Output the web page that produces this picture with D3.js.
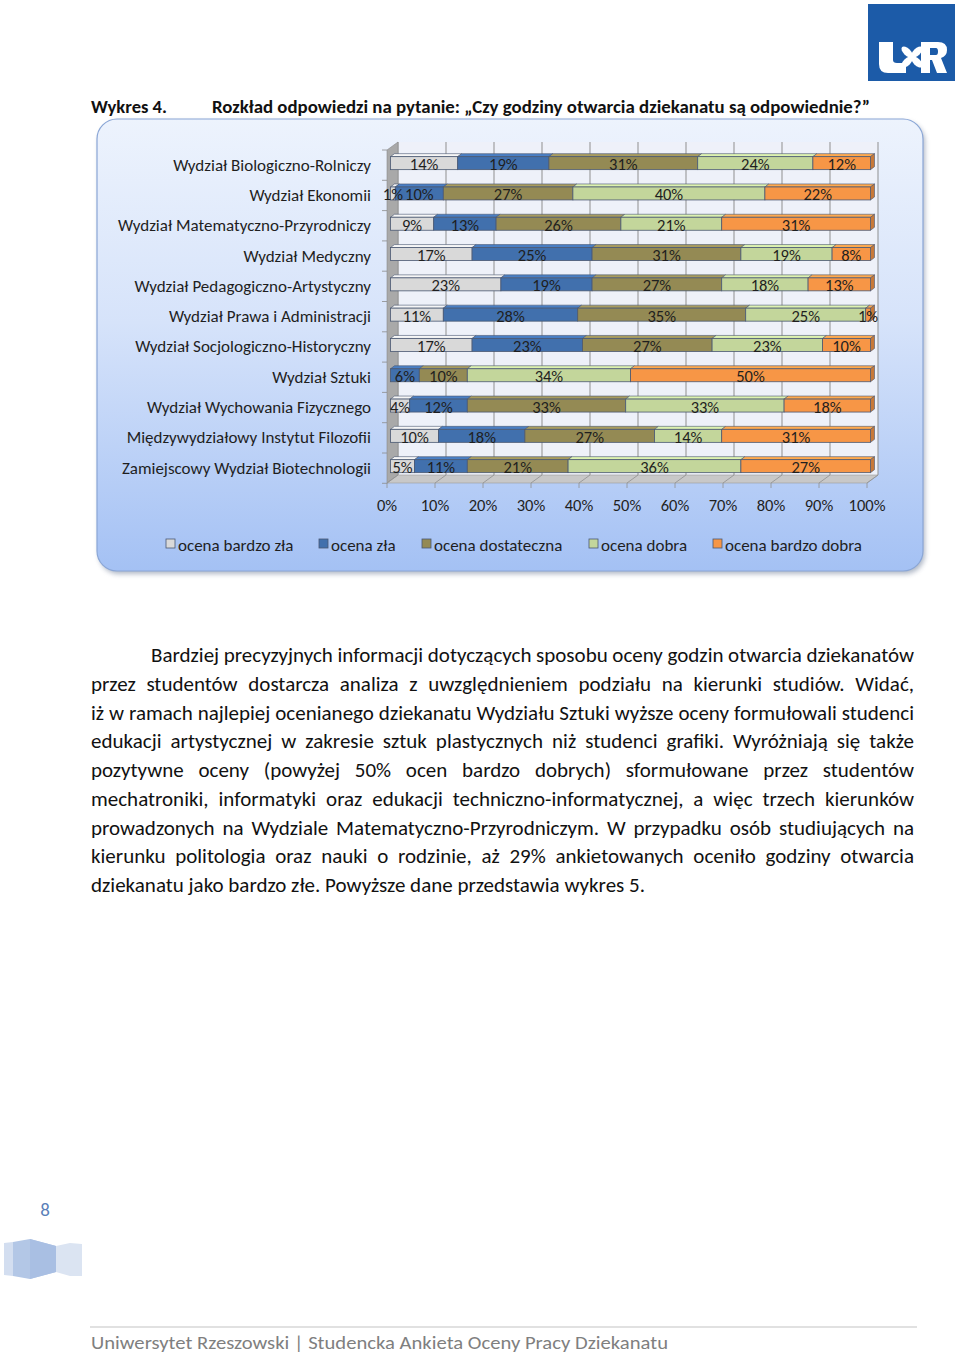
<!DOCTYPE html>
<html><head><meta charset="utf-8">
<script src="https://cdn.jsdelivr.net/npm/d3@7"></script>
<style>html,body{margin:0;padding:0;background:#fff;}svg{display:block;}</style>
</head><body>
<svg id="page" width="960" height="1354"></svg>
<script>
// ---------- DATA ----------
const categories = [
  "Wydział Biologiczno-Rolniczy",
  "Wydział Ekonomii",
  "Wydział Matematyczno-Przyrodniczy",
  "Wydział Medyczny",
  "Wydział Pedagogiczno-Artystyczny",
  "Wydział Prawa i Administracji",
  "Wydział Socjologiczno-Historyczny",
  "Wydział Sztuki",
  "Wydział Wychowania Fizycznego",
  "Międzywydziałowy Instytut Filozofii",
  "Zamiejscowy Wydział Biotechnologii"
];
const seriesNames = ["ocena bardzo zła","ocena zła","ocena dostateczna","ocena dobra","ocena bardzo dobra"];
const bardzoZla   = [14, 1,  9, 17, 23, 11, 17,  0,  4, 10,  5];
const zla         = [19, 10, 13, 25, 19, 28, 23,  6, 12, 18, 11];
const dostateczna = [31, 27, 26, 31, 27, 35, 27, 10, 33, 27, 21];
const dobra       = [24, 40, 21, 19, 18, 25, 23, 34, 33, 14, 36];
const bardzoDobra = [12, 22, 31,  8, 13,  1, 10, 50, 18, 31, 27];
const tickValues  = [0,10,20,30,40,50,60,70,80,90,100];
const tickLabels  = ["0%","10%","20%","30%","40%","50%","60%","70%","80%","90%","100%"];

const titleLeft = "Wykres 4.";
const titleRight = "Rozkład odpowiedzi na pytanie: „Czy godziny otwarcia dziekanatu są odpowiednie?”";
const paragraphLines = [
  "Bardziej precyzyjnych informacji dotyczących sposobu oceny godzin otwarcia dziekanatów",
  "przez studentów dostarcza analiza z uwzględnieniem podziału na kierunki studiów. Widać,",
  "iż w ramach najlepiej ocenianego dziekanatu Wydziału Sztuki wyższe oceny formułowali studenci",
  "edukacji artystycznej w zakresie sztuk plastycznych niż studenci grafiki. Wyróżniają się także",
  "pozytywne oceny (powyżej 50% ocen bardzo dobrych) sformułowane przez studentów",
  "mechatroniki, informatyki oraz edukacji techniczno-informatycznej, a więc trzech kierunków",
  "prowadzonych na Wydziale Matematyczno-Przyrodniczym. W przypadku osób studiujących na",
  "kierunku politologia oraz nauki o rodzinie, aż 29% ankietowanych oceniło godziny otwarcia",
  "dziekanatu jako bardzo złe. Powyższe dane przedstawia wykres 5."
];
const footerText = "Uniwersytet Rzeszowski | Studencka Ankieta Oceny Pracy Dziekanatu";
const pageNumber = "8";

// ---------- STYLE ----------
const FONT = "Carlito, Calibri, Lato, 'Open Sans', sans-serif";
const colors = ["#d9d9d9","#4170ad","#948a54","#c3d69b","#f79646"];

const svg = d3.select("#page");
const defs = svg.append("defs");

// ---------- TITLE ----------
svg.append("text").attr("x",91).attr("y",113).attr("font-family",FONT).attr("font-weight","bold")
  .attr("font-size",17.5).attr("fill","#111").attr("textLength",76).attr("lengthAdjust","spacingAndGlyphs").text(titleLeft);
svg.append("text").attr("x",212).attr("y",113).attr("font-family",FONT).attr("font-weight","bold")
  .attr("font-size",17.5).attr("fill","#111").attr("textLength",658).attr("lengthAdjust","spacingAndGlyphs").text(titleRight);

// ---------- LOGO ----------
const logo = svg.append("g");
logo.append("rect").attr("x",868).attr("y",4).attr("width",87).attr("height",77).attr("fill","#1c5ba8");
logo.append("path").attr("fill","#fff")
  .attr("d","M879,42 L893,42 L893,60 Q893,63 897,63 L906,63 L906,73 L888,73 Q879,73 879,64 Z");
[45,135,225,315].forEach(a=>{
  logo.append("ellipse").attr("cx",912).attr("cy",57).attr("rx",7).attr("ry",3.6)
    .attr("fill","#fff").attr("transform",`rotate(${a},912,57) translate(7,0)`);
});
logo.append("path").attr("fill","#fff").attr("fill-rule","evenodd")
  .attr("d","M921,42 L938,42 Q947,42 947,50 Q947,56 941,58 L947,73 L937,73 L932,60 L930,60 L930,73 L921,73 Z M930,48 L930,55 L936,55 Q938,55 938,51.5 Q938,48 936,48 Z");

// ---------- PANEL ----------
const grad = defs.append("linearGradient").attr("id","pg").attr("x1",0).attr("y1",0).attr("x2",0).attr("y2",1);
grad.append("stop").attr("offset","0").attr("stop-color","#edf3fd");
grad.append("stop").attr("offset","0.45").attr("stop-color","#d6e3fa");
grad.append("stop").attr("offset","1").attr("stop-color","#a4c1f4");
const blur = defs.append("filter").attr("id","sh").attr("x","-5%").attr("y","-5%").attr("width","110%").attr("height","115%");
blur.append("feGaussianBlur").attr("stdDeviation",2.5);
svg.append("rect").attr("x",99).attr("y",122).attr("width",826).attr("height",452).attr("rx",20)
  .attr("fill","#6f7f99").attr("opacity",0.55).attr("filter","url(#sh)");
svg.append("rect").attr("x",97).attr("y",119).attr("width",826).attr("height",452).attr("rx",20)
  .attr("fill","url(#pg)").attr("stroke","#8aa6d6").attr("stroke-width",1.2);

// ---------- CHART ----------
const x = d3.scaleLinear().domain([0,100]).range([387,867]);
const y = d3.scaleBand().domain(categories).range([148,481.3]).padding(0);
const DX = 11, DY = -8;          // full depth of the 3D box
const bdx = 4, bdy = -3;          // bar depth
const barOff = 3.5;               // bars sit slightly behind the front floor edge
const barH = 13;

const chart = svg.append("g");
chart.append("rect").attr("x",x(0)+DX).attr("y",142).attr("width",x(100)-x(0)).attr("height",483+DY-142)
  .attr("fill","#eef1f9");
chart.selectAll("line.grid").data(tickValues).join("line").attr("class","grid")
  .attr("x1",d=>x(d)+DX).attr("x2",d=>x(d)+DX).attr("y1",142).attr("y2",483+DY)
  .attr("stroke","#8f8f8f").attr("stroke-width",1);
chart.append("path").attr("d",`M${x(0)},150 L${x(0)+DX},142 L${x(0)+DX},${483+DY} L${x(0)},483 Z`)
  .attr("fill","#a9a9a9").attr("stroke","#8a8a8a").attr("stroke-width",0.6);
chart.append("path").attr("d",`M${x(0)},483 L${x(0)+DX},${483+DY} L${x(100)+DX},${483+DY} L${x(100)},483 Z`)
  .attr("fill","#c8c8c8").attr("stroke","#9a9a9a").attr("stroke-width",0.6);
chart.selectAll("line.ftick").data(tickValues).join("line").attr("class","ftick")
  .attr("x1",d=>x(d)).attr("x2",d=>x(d)+DX).attr("y1",483).attr("y2",483+DY)
  .attr("stroke","#8f8f8f").attr("stroke-width",0.8);
chart.selectAll("line.ftick2").data(tickValues).join("line").attr("class","ftick2")
  .attr("x1",d=>x(d)).attr("x2",d=>x(d)).attr("y1",483).attr("y2",488)
  .attr("stroke","#8f8f8f").attr("stroke-width",0.8);
const bounds = categories.map(c=>y(c)).concat([y(categories[categories.length-1])+y.bandwidth()]);
chart.selectAll("line.ctick").data(bounds).join("line").attr("class","ctick")
  .attr("x1",x(0)-5).attr("x2",x(0)).attr("y1",d=>d+2).attr("y2",d=>d+2)
  .attr("stroke","#8a8a8a").attr("stroke-width",0.8);

const rows = categories.map((c,i)=>({cat:c, s0:bardzoZla[i], s1:zla[i], s2:dostateczna[i], s3:dobra[i], s4:bardzoDobra[i]}));
const keys = ["s0","s1","s2","s3","s4"];
const stacked = d3.stack().keys(keys)(rows);

const barsG = chart.append("g");
rows.forEach((r,ri)=>{
  const yc = y(r.cat) + y.bandwidth()/2;
  const top = yc - barH/2;
  const g = barsG.append("g");
  let last = -1; keys.forEach((k,ki)=>{ if(r[k]>0) last = ki; });
  stacked.forEach((layer,ki)=>{
    const d = layer[ri];
    if (d[1]-d[0] <= 0) return;
    const x0 = x(d[0])+barOff, x1 = x(d[1])+barOff;
    const col = d3.color(colors[ki]);
    g.append("path").attr("d",`M${x0},${top} L${x0+bdx},${top+bdy} L${x1+bdx},${top+bdy} L${x1},${top} Z`)
      .attr("fill",col.brighter(0.35)).attr("stroke","#4a5872").attr("stroke-width",0.6);
    g.append("rect").attr("x",x0).attr("y",top).attr("width",x1-x0).attr("height",barH)
      .attr("fill",colors[ki]).attr("stroke","#4a5872").attr("stroke-width",0.8);
    if (ki===last) {
      g.append("path").attr("d",`M${x1},${top} L${x1+bdx},${top+bdy} L${x1+bdx},${top+bdy+barH} L${x1},${top+barH} Z`)
        .attr("fill",col.darker(0.6)).attr("stroke","#4a5872").attr("stroke-width",0.6);
    }
  });
  stacked.forEach((layer,ki)=>{
    const d = layer[ri];
    const v = d[1]-d[0];
    if (v <= 0) return;
    g.append("text").attr("x",(x(d[0])+x(d[1]))/2+barOff).attr("y",yc+1)
      .attr("text-anchor","middle").attr("dominant-baseline","central")
      .attr("font-family",FONT).attr("font-size",16.5).attr("fill","#1f1f1f").text(v+"%");
  });
});

chart.selectAll("text.cat").data(categories).join("text").attr("class","cat")
  .attr("x",371).attr("y",d=>y(d)+y.bandwidth()/2+2)
  .attr("text-anchor","end").attr("dominant-baseline","central")
  .attr("font-family",FONT).attr("font-size",17).attr("fill","#1f1f1f").text(d=>d);

chart.selectAll("text.xl").data(tickValues).join("text").attr("class","xl")
  .attr("x",d=>x(d)).attr("y",505).attr("text-anchor","middle").attr("dominant-baseline","central")
  .attr("font-family",FONT).attr("font-size",16.5).attr("fill","#1f1f1f").text((d,i)=>tickLabels[i]);

const legendX = [166,319,422,589,713];
const leg = chart.append("g");
seriesNames.forEach((n,i)=>{
  leg.append("rect").attr("x",legendX[i]).attr("y",539).attr("width",9).attr("height",9)
    .attr("fill",colors[i]).attr("stroke","#4a5872").attr("stroke-width",0.8);
  leg.append("text").attr("x",legendX[i]+12).attr("y",545).attr("dominant-baseline","central")
    .attr("font-family",FONT).attr("font-size",17).attr("fill","#1f1f1f").text(n);
});

// ---------- PARAGRAPH ----------
const para = svg.append("g");
const pLeft = 91, pRight = 914, indent = 151;
const baselines = paragraphLines.map((_,i)=>662 + i*28.75);
const pSize = 21;
paragraphLines.forEach((t,i)=>{
  const x0 = i===0?indent:pLeft;
  const avail = pRight - x0;
  const isLast = i===paragraphLines.length-1;
  if (isLast) {
    para.append("text").attr("x",x0).attr("y",baselines[i]).attr("font-family",FONT).attr("font-size",pSize)
      .attr("fill","#111").text(t);
    return;
  }
  const words = t.split(" ");
  const nodes = words.map(w=>para.append("text").attr("y",baselines[i]).attr("font-family",FONT)
    .attr("font-size",pSize).attr("fill","#111").text(w));
  const widths = nodes.map(n=>n.node().getComputedTextLength());
  const total = d3.sum(widths);
  const minGap = pSize*0.2;
  if (total + minGap*(words.length-1) > avail) {
    nodes.forEach(n=>n.remove());
    para.append("text").attr("x",x0).attr("y",baselines[i]).attr("font-family",FONT).attr("font-size",pSize)
      .attr("fill","#111").attr("textLength",avail).attr("lengthAdjust","spacingAndGlyphs").text(t);
    return;
  }
  const gap = (avail - total)/(words.length-1);
  let cx = x0;
  nodes.forEach((n,k)=>{ n.attr("x",cx); cx += widths[k]+gap; });
});

// ---------- PAGE NUMBER + DECORATION ----------
svg.append("text").attr("x",45).attr("y",1209).attr("text-anchor","middle").attr("dominant-baseline","central")
  .attr("font-family",FONT).attr("font-size",19).attr("fill","#5a7fb8").text(pageNumber);
const deco = svg.append("g");
deco.append("path").attr("d","M4,1243 L13,1242 L13,1276 L4,1275 Z").attr("fill","#d3def0");
deco.append("path").attr("d","M13,1242 L30,1239 L56,1246 L56,1272 L30,1279 L13,1276 Z").attr("fill","#b3c7e6");
deco.append("path").attr("d","M30,1239 L56,1246 L56,1272 L30,1279 Z").attr("fill","#a9bfe3");
deco.append("path").attr("d","M56,1246 L70,1243 L82,1244 L82,1276 L70,1276 L56,1272 Z").attr("fill","#dbe4f2");

// ---------- FOOTER ----------
svg.append("line").attr("x1",90).attr("x2",917).attr("y1",1327).attr("y2",1327).attr("stroke","#c4c4c4").attr("stroke-width",1.2);
svg.append("text").attr("x",91).attr("y",1349).attr("font-family",FONT).attr("font-size",19)
  .attr("fill","#7f7f7f").attr("textLength",577).attr("lengthAdjust","spacingAndGlyphs").text(footerText);
</script>
</body></html>
